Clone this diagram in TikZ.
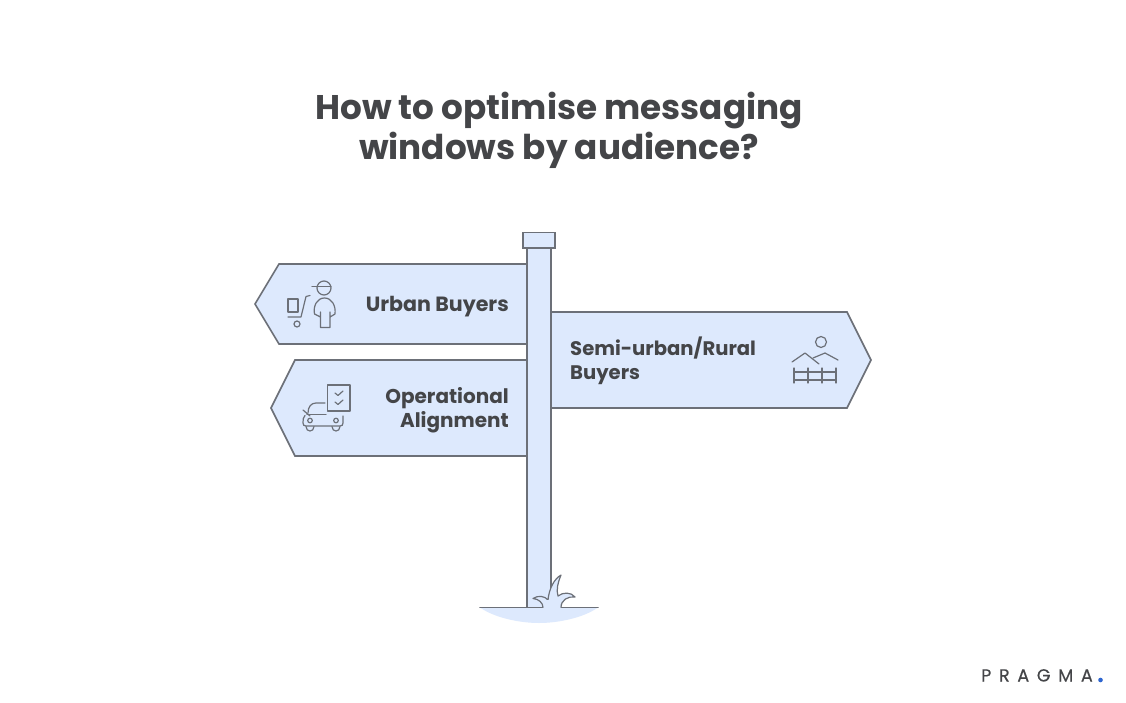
\documentclass[tikz,border=0pt]{standalone}
\usepackage{fontspec}
\setmainfont{Poppins}
\newfontfamily\logofont[LetterSpace=44,FakeBold=0.4]{Poppins}
\definecolor{signfill}{HTML}{DDE9FD}
\definecolor{signline}{HTML}{6C7078}
\definecolor{inktext}{HTML}{444548}
\definecolor{logoblue}{HTML}{2F66D0}
\tikzset{
  signbox/.style={draw=signline,fill=signfill,line width=1.6pt,line join=miter},
  iconline/.style={draw=signline,line width=1.2pt,line cap=round,line join=round},
  signlabel/.style={font=\fontsize{20}{24}\selectfont\bfseries,text=inktext,inner sep=0pt},
  titletext/.style={font=\fontsize{34.2}{40}\selectfont\bfseries,text=inktext,align=center,inner sep=0pt}
}
\begin{document}
\begin{tikzpicture}[x=1pt,y=-1pt]
\useasboundingbox (0,0) rectangle (1126,703);
\fill[white] (0,0) rectangle (1126,703);
\node[titletext] (title) at (559,130) {How to optimise messaging\\windows by audience?};
% ground
\fill[signfill] (480,607.5) .. controls (495,618) and (520,623) .. (539,623) .. controls (558,623) and (583,618) .. (598,607.5) -- cycle;
% signs
\path[signbox] (527,264) -- (279,264) -- (255,304) -- (279,344) -- (527,344);
\path[signbox] (527,360) -- (295,360) -- (271,408) -- (295,456) -- (527,456);
\path[signbox] (551,312) -- (847,312) -- (871,360) -- (847,408) -- (551,408);
% post
\fill[signfill] (527,248) rectangle (551,607.5);
\draw[signline,line width=1.6pt] (527,248) -- (527,607.5) (551,248) -- (551,607.5);
\path[signbox] (523,232.5) rectangle (555,248);
\draw[signline,line width=1.6pt,line cap=round] (480,607.5) -- (543,607.5) (561,607.5) -- (598,607.5);
% grass
\path[draw=signline,fill=signfill,line width=1.2pt,line join=round]
  (543,607.5) .. controls (543,603) and (539,599) .. (533,598.5)
  .. controls (538,595) and (545,596) .. (548,600)
  .. controls (549,589) and (554,579) .. (561,575)
  .. controls (558,582) and (556,590) .. (558,596)
  .. controls (563,592) and (571,592) .. (575,597)
  .. controls (568,596) and (561,600) .. (561,607.5);
\fill[signfill] (544,608.5) -- (560,608.5) -- (559,600) -- (546,600) -- cycle;
% labels
\node[signlabel,anchor=east,font=\fontsize{20.6}{24}\selectfont\bfseries] (urban) at (509,306.5) {Urban Buyers};
\node[signlabel,anchor=east,align=right] (oper) at (509,410) {Operational\\Alignment};
\node[signlabel,anchor=west,align=left,font=\fontsize{19.6}{24}\selectfont\bfseries] (rural) at (570,361) {Semi-urban/Rural\\Buyers};
% urban icon
\draw[iconline] (324,288) circle (7);
\draw[iconline] (312,286.5) -- (331,286.5);
\draw[iconline] (320.5,327.5) -- (320.5,312) (320.5,317) -- (314.5,314) .. controls (313,306) and (317,298) .. (324.5,298) .. controls (332,298) and (336,306) .. (335,314) -- (330,317) (330,312) -- (330,327.5) -- (320.5,327.5);
\draw[iconline] (288,299) rectangle (298,312);
\draw[iconline] (288,317) -- (301,317) -- (306,296.5) -- (310,295.5);
\draw[iconline] (297,324) circle (3);
% operational icon
\draw[iconline] (327.5,385) rectangle (350,411);
\draw[iconline] (335,393) -- (338,395.5) -- (343,391);
\draw[iconline] (335,402) -- (338,404.5) -- (343,400);
\draw[iconline] (308,413) .. controls (308,407) and (311,403) .. (316,403) -- (325,403);
\draw[iconline] (303,410) -- (310,416);
\draw[iconline] (307,414.5) -- (326,414.5);
\draw[iconline] (305,415.5) .. controls (303,417) and (303,420) .. (303,423) .. controls (303,425) and (304,426) .. (306,426) -- (340,426) .. controls (342,426) and (343,425) .. (343,423) -- (343,416);
\draw[iconline] (310,420.5) circle (2.3);
\draw[iconline] (336,420.5) circle (2.3);
\draw[iconline] (306,426.5) .. controls (306,432.5) and (314,432.5) .. (314,426.5);
\draw[iconline] (332,426.5) .. controls (332,432.5) and (340,432.5) .. (340,426.5);
% landscape icon
\draw[iconline] (821,342) circle (5.5);
\draw[iconline] (792,362) -- (805,353) -- (819,364);
\draw[iconline] (813,358) -- (825,353) -- (838,360);
\draw[iconline] (794,372) -- (836,372) (794,380) -- (836,380);
\draw[iconline] (794,368) -- (794,383) (808,368) -- (808,383) (822,368) -- (822,383) (836,368) -- (836,383);
% logo
\node[anchor=base west,inner sep=0pt,text=inktext,font=\fontsize{17.5}{20}\selectfont\logofont] (logo) at (981,681.5) {PRAGMA};
\fill[logoblue] (1100.5,680) circle (2.3);
\end{tikzpicture}
\end{document}
